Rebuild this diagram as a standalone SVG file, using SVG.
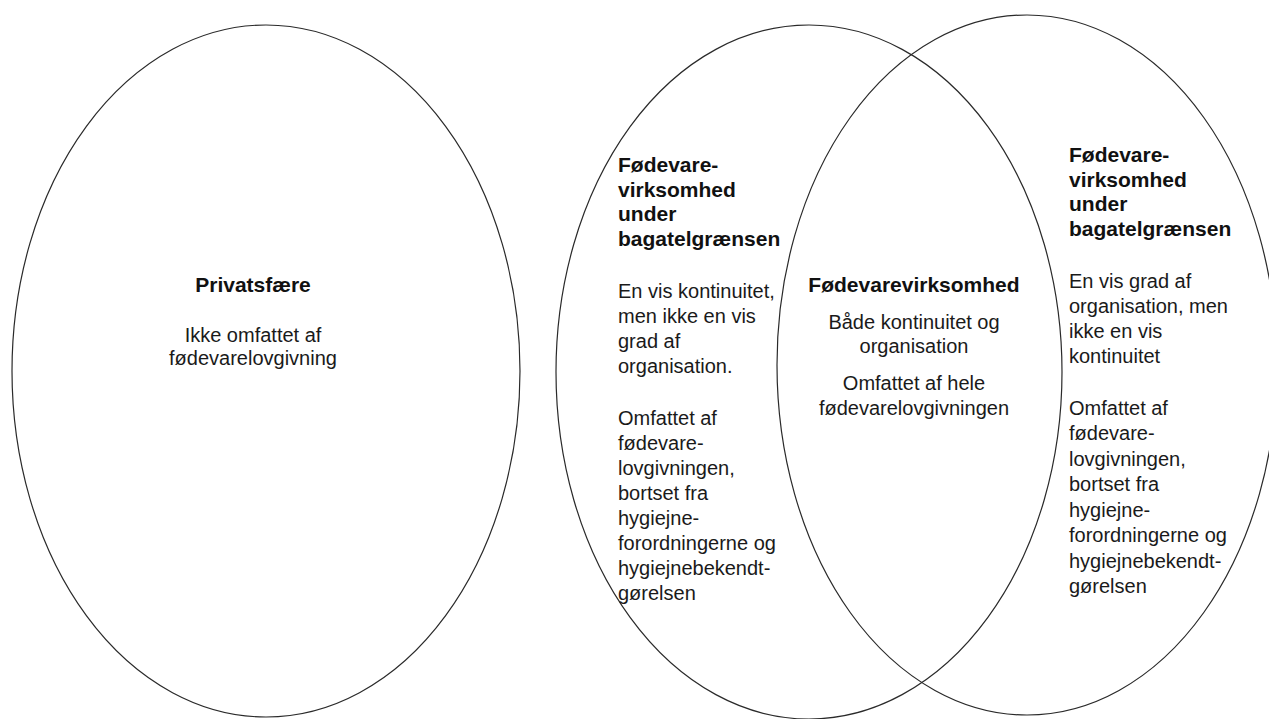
<svg xmlns="http://www.w3.org/2000/svg" width="1269" height="719" viewBox="0 0 1269 719">
<style>
.ell{fill:none;stroke:#2a2a2a;stroke-width:1.2}
.t{font-family:"Liberation Sans",Arial,sans-serif;font-size:20px;fill:#1a1a1a}
.b{font-family:"Liberation Sans",Arial,sans-serif;font-size:21px;font-weight:bold;fill:#111}
.c{text-anchor:middle}
</style>
<rect width="1269" height="719" fill="#ffffff"/>
<g id="privatsfaere">
<ellipse class="ell" cx="266" cy="371" rx="254" ry="346"/>
<text class="b c" x="253" y="292">Privatsfære</text>
<text class="t c" x="253" y="342">Ikke omfattet af</text>
<text class="t c" x="253" y="365">fødevarelovgivning</text>
</g>
<g id="bagatel-kontinuitet">
<ellipse class="ell" cx="809" cy="372" rx="253" ry="347"/>
<text class="b" x="618" y="172">Fødevare-</text>
<text class="b" x="618" y="196.5">virksomhed</text>
<text class="b" x="618" y="221">under</text>
<text class="b" x="618" y="245.5">bagatelgrænsen</text>
<text class="t" x="618" y="298">En vis kontinuitet,</text>
<text class="t" x="618" y="323">men ikke en vis</text>
<text class="t" x="618" y="348">grad af</text>
<text class="t" x="618" y="373">organisation.</text>
<text class="t" x="618" y="425">Omfattet af</text>
<text class="t" x="618" y="450">fødevare-</text>
<text class="t" x="618" y="475">lovgivningen,</text>
<text class="t" x="618" y="500">bortset fra</text>
<text class="t" x="618" y="525">hygiejne-</text>
<text class="t" x="618" y="550">forordningerne og</text>
<text class="t" x="618" y="575">hygiejnebekendt-</text>
<text class="t" x="618" y="600">gørelsen</text>
</g>
<g id="bagatel-organisation">
<ellipse class="ell" cx="1027" cy="365" rx="250" ry="350"/>
<text class="b" x="1069" y="162">Fødevare-</text>
<text class="b" x="1069" y="186.5">virksomhed</text>
<text class="b" x="1069" y="211">under</text>
<text class="b" x="1069" y="235.5">bagatelgrænsen</text>
<text class="t" x="1069" y="288">En vis grad af</text>
<text class="t" x="1069" y="313">organisation, men</text>
<text class="t" x="1069" y="338">ikke en vis</text>
<text class="t" x="1069" y="363">kontinuitet</text>
<text class="t" x="1069" y="415">Omfattet af</text>
<text class="t" x="1069" y="440">fødevare-</text>
<text class="t" x="1069" y="466">lovgivningen,</text>
<text class="t" x="1069" y="491">bortset fra</text>
<text class="t" x="1069" y="517">hygiejne-</text>
<text class="t" x="1069" y="542">forordningerne og</text>
<text class="t" x="1069" y="568">hygiejnebekendt-</text>
<text class="t" x="1069" y="593">gørelsen</text>
</g>
<g id="foedevarevirksomhed">
<text class="b c" x="914" y="292">Fødevarevirksomhed</text>
<text class="t c" x="914" y="329">Både kontinuitet og</text>
<text class="t c" x="914" y="353">organisation</text>
<text class="t c" x="914" y="390">Omfattet af hele</text>
<text class="t c" x="914" y="415">fødevarelovgivningen</text>
</g>
<g id="connectors"/>
</svg>
